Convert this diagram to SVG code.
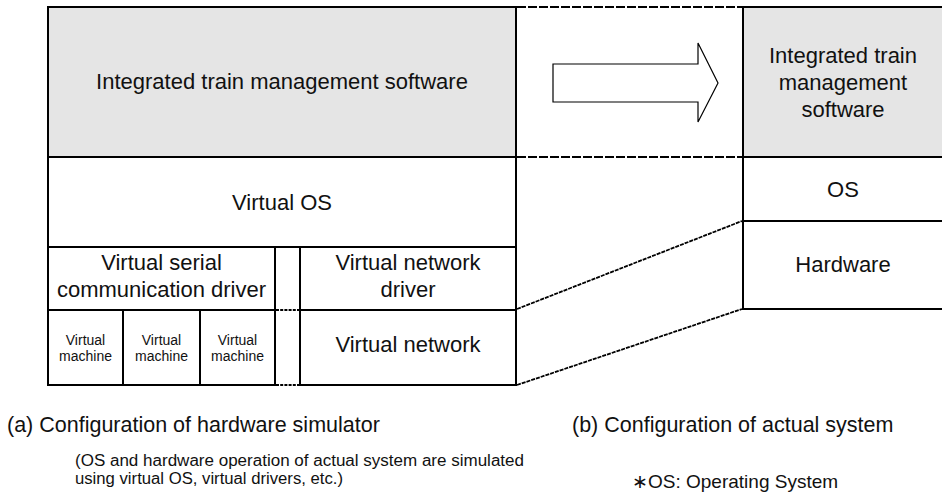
<svg xmlns="http://www.w3.org/2000/svg" width="942" height="498" viewBox="0 0 942 498">
  <style>
    .box { fill: #ffffff; stroke: #000000; stroke-width: 2; }
    .sw { fill: #e5e5e5; stroke: #000000; stroke-width: 2; }
    .lbl { font-family: "Liberation Sans", Arial, sans-serif; font-size: 22px; fill: #111111; text-anchor: middle; }
    .small { font-size: 14px; }
    .cap { font-family: "Liberation Sans", Arial, sans-serif; font-size: 21.5px; fill: #111111; }
    .note { font-family: "Liberation Sans", Arial, sans-serif; font-size: 16px; fill: #111111; }
    .dash { fill: none; stroke: #000000; stroke-width: 2; stroke-dasharray: 9 2; }
    .dot { fill: none; stroke: #000000; stroke-width: 2; stroke-dasharray: 3 1.2; }
    .slant { fill: none; stroke: #000000; stroke-width: 1.8; stroke-dasharray: 4 1; }
  </style>

  <rect x="0" y="0" width="942" height="498" fill="#ffffff"/>

  <!-- (a) hardware simulator stack -->
  <g id="sim-software">
    <rect class="sw" x="48" y="7" width="468" height="150"/>
    <text class="lbl" x="282" y="89">Integrated train management software</text>
  </g>
  <g id="sim-virtual-os">
    <rect class="box" x="48" y="157" width="468" height="90"/>
    <text class="lbl" x="282" y="210">Virtual OS</text>
  </g>
  <g id="sim-serial-driver">
    <rect class="box" x="48" y="247" width="227" height="63"/>
    <text class="lbl" x="161.5" y="270">Virtual serial</text>
    <text class="lbl" x="161.5" y="297">communication driver</text>
  </g>
  <g id="sim-vm-1">
    <rect class="box" x="48" y="310" width="75" height="75"/>
    <text class="lbl small" x="85.5" y="345">Virtual</text>
    <text class="lbl small" x="85.5" y="361">machine</text>
  </g>
  <g id="sim-vm-2">
    <rect class="box" x="123" y="310" width="77" height="75"/>
    <text class="lbl small" x="161.5" y="345">Virtual</text>
    <text class="lbl small" x="161.5" y="361">machine</text>
  </g>
  <g id="sim-vm-3">
    <rect class="box" x="200" y="310" width="75" height="75"/>
    <text class="lbl small" x="237.5" y="345">Virtual</text>
    <text class="lbl small" x="237.5" y="361">machine</text>
  </g>
  <g id="sim-gap">
    <line class="dot" x1="276" y1="310" x2="299" y2="310"/>
    <line class="dot" x1="276" y1="385" x2="299" y2="385"/>
  </g>
  <g id="sim-network-driver">
    <rect class="box" x="300" y="247" width="216" height="63"/>
    <text class="lbl" x="408" y="270">Virtual network</text>
    <text class="lbl" x="408" y="297">driver</text>
  </g>
  <g id="sim-network">
    <rect class="box" x="300" y="310" width="216" height="75"/>
    <text class="lbl" x="408" y="352">Virtual network</text>
  </g>

  <!-- (b) actual system stack; right side runs off the page -->
  <g id="act-software">
    <rect class="sw" x="743" y="7" width="210" height="150"/>
    <text class="lbl" x="843" y="63">Integrated train</text>
    <text class="lbl" x="843" y="90">management</text>
    <text class="lbl" x="843" y="117">software</text>
  </g>
  <g id="act-os">
    <rect class="box" x="743" y="157" width="210" height="64"/>
    <text class="lbl" x="843" y="197">OS</text>
  </g>
  <g id="act-hardware">
    <rect class="box" x="743" y="221" width="210" height="88"/>
    <text class="lbl" x="843" y="272">Hardware</text>
  </g>

  <!-- mapping between the two stacks -->
  <g id="connectors">
    <line class="dash" x1="517" y1="7" x2="742" y2="7"/>
    <line class="dash" x1="517" y1="157" x2="742" y2="157"/>
    <line class="slant" x1="517" y1="309" x2="742" y2="221"/>
    <line class="slant" x1="517" y1="385" x2="742" y2="309"/>
  </g>

  <g id="arrow">
    <polygon points="553,64 698,64 698,43 718,83 698,122 698,102 553,102" fill="#ffffff" stroke="#000000" stroke-width="1.2"/>
  </g>

  <!-- captions -->
  <g id="captions">
    <text class="cap" x="7" y="432">(a) Configuration of hardware simulator</text>
    <text class="note" x="75" y="465.5" textLength="449" lengthAdjust="spacingAndGlyphs">(OS and hardware operation of actual system are simulated</text>
    <text class="note" x="75" y="483.5" textLength="268" lengthAdjust="spacingAndGlyphs">using virtual OS, virtual drivers, etc.)</text>
    <text class="cap" x="572" y="432">(b) Configuration of actual system</text>
    <text class="note" x="632" y="488" style="font-size:19px">∗OS: Operating System</text>
  </g>
</svg>
